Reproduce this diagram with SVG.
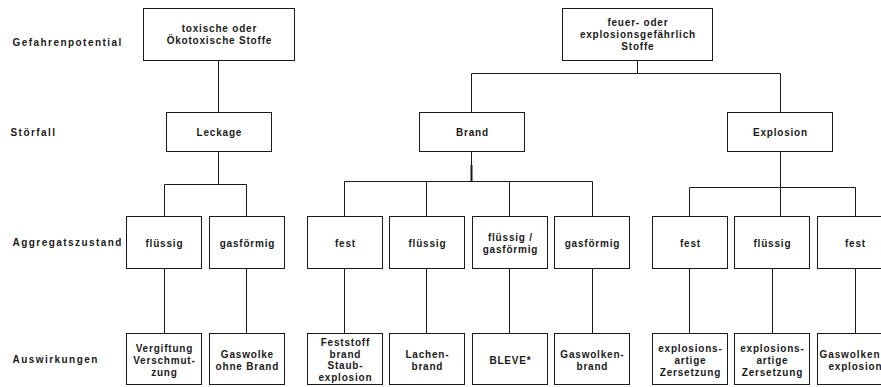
<svg xmlns="http://www.w3.org/2000/svg" width="881" height="387" viewBox="0 0 881 387">
<style>
  .box { fill: #ffffff; stroke: #1a1a1a; stroke-width: 1; }
  .ln { fill: none; stroke: #1a1a1a; stroke-width: 1; }
  .t { font-family: "Liberation Sans", Arial, sans-serif; font-size: 10px; font-weight: bold; fill: #1a1a1a; text-anchor: middle; letter-spacing: 0.8px; }
  .lab { font-family: "Liberation Sans", Arial, sans-serif; font-size: 10px; font-weight: bold; fill: #1a1a1a; letter-spacing: 1.45px; }
</style>
<rect width="881" height="387" fill="#ffffff"/>

<g id="labels">
  <text class="lab" x="12.5" y="45.5">Gefahrenpotential</text>
  <text class="lab" x="10.5" y="136">Störfall</text>
  <text class="lab" x="12.5" y="246">Aggregatszustand</text>
  <text class="lab" x="12.5" y="362.5">Auswirkungen</text>
</g>

<g id="connectors">
  <path class="ln" d="M218.5 60.5V112.5 M218.5 151.5V184.5 M164.5 216.5V184.5H246.5V216.5"/>
  <path class="ln" d="M164.5 268.5V333.5 M246.5 268.5V333.5"/>
  <path class="ln" d="M637.5 60.5V73.5 M471.5 112.5V73.5H780.5V112.5"/>
  <path class="ln" d="M471.5 151.5V181.5 M344.5 216.5V181.5H592.5V216.5 M426.5 181.5V216.5 M509.5 181.5V216.5"/>
  <path class="ln" d="M471.5 165V181.5" style="stroke-width:2"/>
  <path class="ln" d="M344.5 268.5V333.5 M426.5 268.5V333.5 M509.5 268.5V333.5 M592.5 268.5V333.5"/>
  <path class="ln" d="M780.5 151.5V187.5 M689.5 216.5V187.5H855.5V216.5 M780.5 187.5V216.5"/>
  <path class="ln" d="M689.5 268.5V333.5 M772.5 268.5V333.5 M855.5 268.5V333.5"/>
</g>

<g id="n-toxisch">
  <rect class="box" x="143.5" y="8.5" width="151" height="52"/>
  <text class="t" x="219.4" y="32.3">toxische oder</text>
  <text class="t" x="219.4" y="44.3">Ökotoxische Stoffe</text>
</g>
<g id="n-feuer">
  <rect class="box" x="562.5" y="8.5" width="150" height="52"/>
  <text class="t" x="637.9" y="26">feuer- oder</text>
  <text class="t" x="637.9" y="38">explosionsgefährlich</text>
  <text class="t" x="637.9" y="50">Stoffe</text>
</g>

<g id="n-leckage">
  <rect class="box" x="166.5" y="112.5" width="105" height="39"/>
  <text class="t" x="219.4" y="136">Leckage</text>
</g>
<g id="n-brand">
  <rect class="box" x="419.5" y="112.5" width="105" height="39"/>
  <text class="t" x="472.4" y="136">Brand</text>
</g>
<g id="n-explosion">
  <rect class="box" x="727.5" y="112.5" width="105" height="39"/>
  <text class="t" x="780.4" y="136">Explosion</text>
</g>

<g id="n-l-fluessig">
  <rect class="box" x="126.5" y="216.5" width="75" height="52"/>
  <text class="t" x="164.4" y="246.5">flüssig</text>
</g>
<g id="n-l-gas">
  <rect class="box" x="209.5" y="216.5" width="75" height="52"/>
  <text class="t" x="247.4" y="246.5">gasförmig</text>
</g>
<g id="n-b-fest">
  <rect class="box" x="307.5" y="216.5" width="75" height="52"/>
  <text class="t" x="345.4" y="246.5">fest</text>
</g>
<g id="n-b-fluessig">
  <rect class="box" x="389.5" y="216.5" width="75" height="52"/>
  <text class="t" x="427.4" y="246.5">flüssig</text>
</g>
<g id="n-b-fg">
  <rect class="box" x="472.5" y="216.5" width="75" height="52"/>
  <text class="t" x="510.4" y="240.5">flüssig /</text>
  <text class="t" x="510.4" y="252.5">gasförmig</text>
</g>
<g id="n-b-gas">
  <rect class="box" x="554.5" y="216.5" width="75" height="52"/>
  <text class="t" x="592.4" y="246.5">gasförmig</text>
</g>
<g id="n-e-fest">
  <rect class="box" x="652.5" y="216.5" width="75" height="52"/>
  <text class="t" x="690.4" y="246.5">fest</text>
</g>
<g id="n-e-fluessig">
  <rect class="box" x="734.5" y="216.5" width="75" height="52"/>
  <text class="t" x="772.4" y="246.5">flüssig</text>
</g>
<g id="n-e-fest2">
  <rect class="box" x="817.5" y="216.5" width="75" height="52"/>
  <text class="t" x="855.4" y="246.5">fest</text>
</g>

<g id="n-vergiftung">
  <rect class="box" x="126.5" y="333.5" width="75" height="51"/>
  <text class="t" x="164.4" y="352.3">Vergiftung</text>
  <text class="t" x="164.4" y="364.1">Verschmut-</text>
  <text class="t" x="164.4" y="375.9">zung</text>
</g>
<g id="n-gaswolke">
  <rect class="box" x="209.5" y="333.5" width="75" height="51"/>
  <text class="t" x="247.4" y="357.6">Gaswolke</text>
  <text class="t" x="247.4" y="369.6">ohne Brand</text>
</g>
<g id="n-feststoff">
  <rect class="box" x="307.5" y="333.5" width="75" height="51"/>
  <text class="t" x="345.4" y="346">Feststoff</text>
  <text class="t" x="345.4" y="357.7">brand</text>
  <text class="t" x="345.4" y="369.4">Staub-</text>
  <text class="t" x="345.4" y="381.1">explosion</text>
</g>
<g id="n-lachen">
  <rect class="box" x="389.5" y="333.5" width="75" height="51"/>
  <text class="t" x="427.4" y="357.6">Lachen-</text>
  <text class="t" x="427.4" y="369.6">brand</text>
</g>
<g id="n-bleve">
  <rect class="box" x="472.5" y="333.5" width="75" height="51"/>
  <text class="t" x="510.4" y="363.5">BLEVE*</text>
</g>
<g id="n-gaswolkenbrand">
  <rect class="box" x="554.5" y="333.5" width="75" height="51"/>
  <text class="t" x="592.4" y="357.6">Gaswolken-</text>
  <text class="t" x="592.4" y="369.6">brand</text>
</g>
<g id="n-zers1">
  <rect class="box" x="652.5" y="333.5" width="75" height="51"/>
  <text class="t" x="690.4" y="352.3">explosions-</text>
  <text class="t" x="690.4" y="364.1">artige</text>
  <text class="t" x="690.4" y="375.9">Zersetzung</text>
</g>
<g id="n-zers2">
  <rect class="box" x="734.5" y="333.5" width="75" height="51"/>
  <text class="t" x="772.4" y="352.3">explosions-</text>
  <text class="t" x="772.4" y="364.1">artige</text>
  <text class="t" x="772.4" y="375.9">Zersetzung</text>
</g>
<g id="n-gwexpl">
  <rect class="box" x="817.5" y="333.5" width="75" height="51"/>
  <text class="t" x="819.5" y="357.6" style="text-anchor:start;letter-spacing:0.9px">Gaswolken</text>
  <text class="t" x="855.4" y="369.6">explosion</text>
</g>
</svg>
